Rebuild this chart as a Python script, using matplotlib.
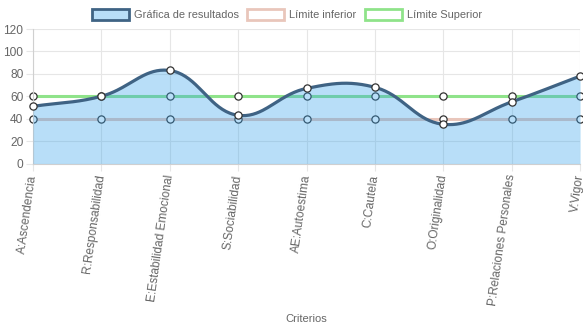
import numpy as np
import matplotlib.pyplot as plt
from matplotlib.patches import Patch

criterios = [
    "A:Ascendencia",
    "R:Responsabilidad",
    "E:Estabilidad Emocional",
    "S:Sociabilidad",
    "AE:Autoestima",
    "C:Cautela",
    "O:Originalidad",
    "P:Relaciones Personales",
    "V:Vigor",
]
resultados = [51, 60, 83, 43, 67, 68, 35, 55, 78]
limite_inferior = [40, 40, 40, 40, 40, 40, 40, 40, 40]
limite_superior = [60, 60, 60, 60, 60, 60, 60, 60, 60]
y_ticks = [0, 20, 40, 60, 80, 100, 120]

FILL = (54 / 255, 162 / 255, 235 / 255, 0.35)
LINE = "#3f6384"
LOW = "#e9c6bb"
HIGH = "#8fe38a"
TEXT = "#666666"
GRID = "#e6e6e6"

plt.rcParams["font.family"] = ["Liberation Sans", "DejaVu Sans"]


def spline(xs, ys, sx, sy, tension=0.4, n=40):
    # Chart.js style cubic bezier through the points (distances in pixels)
    px = np.asarray(xs, float) * sx
    py = np.asarray(ys, float) * sy
    k = len(px)
    cp_prev = np.zeros((k, 2))
    cp_next = np.zeros((k, 2))
    for i in range(k):
        p0 = (px[max(i - 1, 0)], py[max(i - 1, 0)])
        p1 = (px[i], py[i])
        p2 = (px[min(i + 1, k - 1)], py[min(i + 1, k - 1)])
        d01 = np.hypot(p1[0] - p0[0], p1[1] - p0[1])
        d12 = np.hypot(p2[0] - p1[0], p2[1] - p1[1])
        tot = d01 + d12 if d01 + d12 else 1
        fa = tension * d01 / tot
        fb = tension * d12 / tot
        cp_prev[i] = (p1[0] - fa * (p2[0] - p0[0]), p1[1] - fa * (p2[1] - p0[1]))
        cp_next[i] = (p1[0] + fb * (p2[0] - p0[0]), p1[1] + fb * (p2[1] - p0[1]))
    out_x, out_y = [], []
    t = np.linspace(0, 1, n)
    for i in range(k - 1):
        P0 = np.array([px[i], py[i]])
        P1 = cp_next[i]
        P2 = cp_prev[i + 1]
        P3 = np.array([px[i + 1], py[i + 1]])
        seg = ((1 - t) ** 3)[:, None] * P0 + (3 * (1 - t) ** 2 * t)[:, None] * P1 \
            + (3 * (1 - t) * t ** 2)[:, None] * P2 + (t ** 3)[:, None] * P3
        out_x.extend(seg[:, 0] / sx)
        out_y.extend(seg[:, 1] / sy)
    return np.array(out_x), np.array(out_y)


fig = plt.figure(figsize=(5.83, 3.28), dpi=100)
ax = fig.add_axes([0.0566, 0.5015, 0.9384, 0.41])

x = np.arange(len(criterios))
# pixel scale of the axes, used for the curve shape
sx = 68.4
sy = 134.5 / 120

ax.plot(x, limite_inferior, color=LOW, lw=2.2, zorder=2, marker="o", ms=5.2,
        mfc="white", mec="#333333", mew=0.9, clip_on=False)
ax.plot(x, limite_superior, color=HIGH, lw=2.2, zorder=2.5, marker="o", ms=5.2,
        mfc="white", mec="#333333", mew=0.9, clip_on=False)

cx, cy = spline(x, resultados, sx, sy)
ax.fill_between(cx, 0, cy, color=FILL, lw=0, zorder=3)
ax.plot(cx, cy, color=LINE, lw=2.3, zorder=4, solid_capstyle="round")
ax.plot(x, resultados, ls="none", marker="o", ms=5.2, mfc="white",
        mec="#333333", mew=0.9, zorder=5, clip_on=False)

ax.set_xlim(0, len(criterios) - 1)
ax.set_ylim(0, 120)
ax.set_yticks(y_ticks)
ax.set_xticks(x)
ax.set_xticklabels(criterios, rotation=82, ha="right", va="center",
                   rotation_mode="anchor")
ax.grid(True, color=GRID, lw=0.8)
ax.set_axisbelow(True)
for s in ["top", "right"]:
    ax.spines[s].set_visible(False)
ax.spines["left"].set_color("#d0d0d0")
ax.spines["bottom"].set_color("#d0d0d0")
ax.tick_params(colors=TEXT, labelsize=8.6, length=5, width=0.8,
               direction="out", pad=2)
ax.tick_params(axis="x", color=GRID, pad=3)
ax.tick_params(axis="y", color=GRID)
ax.set_xlabel("Criterios", color=TEXT, fontsize=8.0)
ax.xaxis.set_label_coords(0.5, -1.12)

handles = [
    Patch(facecolor=FILL, edgecolor=LINE, lw=2, label="Gráfica de resultados"),
    Patch(facecolor="white", edgecolor=LOW, lw=2, label="Límite inferior"),
    Patch(facecolor="white", edgecolor=HIGH, lw=2, label="Límite Superior"),
]
leg = fig.legend(handles=handles, loc="center", bbox_to_anchor=(0.492, 0.955),
                 ncol=3, frameon=False, fontsize=7.9, handlelength=3.4,
                 handleheight=1.1, handletextpad=0.45, columnspacing=0.75)
for t in leg.get_texts():
    t.set_color(TEXT)

fig.savefig("out.png", dpi=100)
